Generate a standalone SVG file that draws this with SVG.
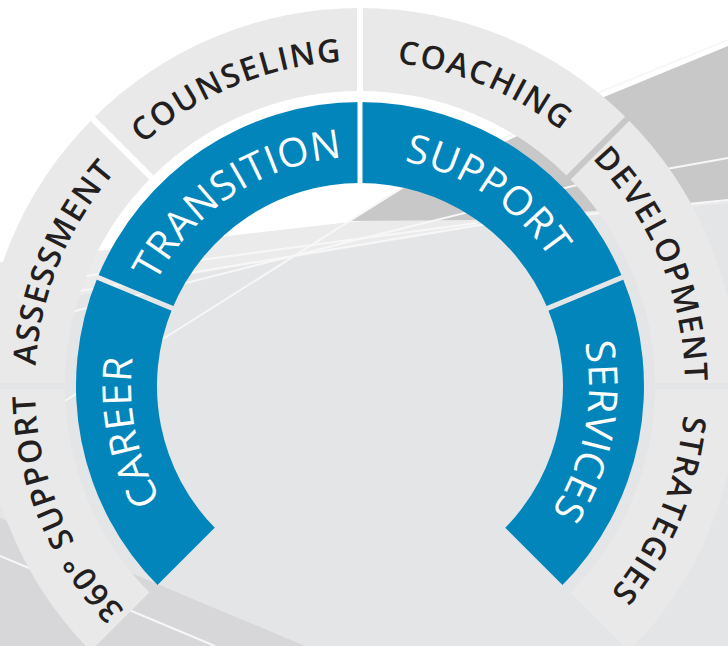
<svg xmlns="http://www.w3.org/2000/svg" xmlns:xlink="http://www.w3.org/1999/xlink" width="728" height="646" viewBox="0 0 728 646">
  <style>
    .outer { fill: #e9e9ea; }
    .inner { fill: #0285bb; }
    .olabel { font-family: "Open Sans", "Noto Sans", "Liberation Sans", sans-serif; font-size: 32px; font-weight: 600; fill: #231f20; letter-spacing: 1.5px; }
    .ilabel { font-family: "Open Sans", "Noto Sans", "Liberation Sans", sans-serif; font-size: 40px; font-weight: 500; fill: #ffffff; letter-spacing: 0.5px; }
    .wl { fill: none; stroke: #f7f7f7; stroke-width: 2; }
    .cut { stroke: #000; fill: none; }
  </style>
  <defs>
    <mask id="outerGaps" maskUnits="userSpaceOnUse" x="-60" y="-60" width="850" height="770">
      <rect x="-60" y="-60" width="850" height="770" fill="#fff"/>
      <g class="cut" stroke-width="6">
        <line x1="360" y1="386" x2="77.16" y2="668.84"/>
        <line x1="360" y1="386" x2="-40" y2="386"/>
        <line x1="360" y1="386" x2="77.16" y2="103.16"/>
        <line x1="360" y1="386" x2="360" y2="-14"/>
        <line x1="360" y1="386" x2="642.84" y2="103.16"/>
        <line x1="360" y1="386" x2="760" y2="386"/>
        <line x1="360" y1="386" x2="642.84" y2="668.84"/>
      </g>
    </mask>
    <mask id="innerGaps" maskUnits="userSpaceOnUse" x="-60" y="-60" width="850" height="770">
      <rect x="-60" y="-60" width="850" height="770" fill="#fff"/>
      <g class="cut" stroke-width="5">
        <line x1="360" y1="386" x2="77.16" y2="668.84"/>
        <line x1="360" y1="386" x2="-9.55" y2="232.93"/>
        <line x1="360" y1="386" x2="360" y2="-14"/>
        <line x1="360" y1="386" x2="729.55" y2="232.93"/>
        <line x1="360" y1="386" x2="642.84" y2="668.84"/>
      </g>
    </mask>
    <!-- text baselines, clockwise -->
    <path id="t-career" d="M198.07,547.93 A229,229 0 0 1 148.43,298.37"/>
    <path id="t-transition" d="M148.43,298.37 A229,229 0 0 1 360,157"/>
    <path id="t-support" d="M360,157 A229,229 0 0 1 571.57,298.37"/>
    <path id="t-services" d="M571.57,298.37 A229,229 0 0 1 521.93,547.93"/>
    <path id="t-360" d="M130.19,615.81 A325,325 0 0 1 35,386"/>
    <path id="t-assessment" d="M35,386 A325,325 0 0 1 130.19,156.19"/>
    <path id="t-counseling" d="M130.19,156.19 A325,325 0 0 1 360,61"/>
    <path id="t-coaching" d="M360,61 A325,325 0 0 1 589.81,156.19"/>
    <path id="t-development" d="M589.81,156.19 A325,325 0 0 1 685,386"/>
    <path id="t-strategies" d="M685,386 A325,325 0 0 1 589.81,615.81"/>
  </defs>

  <g id="background">
    <rect x="0" y="0" width="728" height="646" fill="#ffffff"/>
    <polygon points="0,262 350,222 728,196 728,646 0,646" fill="#ebebec"/>
    <polygon points="0,310 190,275 480,226 728,203 728,646 0,646" fill="#e4e5e7"/>
    <polygon points="350,221 407,186 604,97 728,46 728,201 470,220" fill="#c8c8c8"/>
    <polygon points="0,518 305,646 0,646" fill="#d7d7d9"/>
    <polyline class="wl" points="0,442 193,320 405,186 600,92 728,40"/>
    <polyline class="wl" points="0,304 190,273 480,225 728,200"/>
    <polyline class="wl" points="0,330 364,238 577,185 728,158"/>
    <polyline class="wl" points="0,288 193,261 477,223"/>
    <line class="wl" x1="0" y1="556" x2="215" y2="646"/>
  </g>

  <g id="outer-360-support">
    <path class="outer" mask="url(#outerGaps)" d="M92.71,653.29 A378,378 0 0 1 -18,386 L65,386 A295,295 0 0 0 151.40,594.60 Z"/>
    <text class="olabel"><textPath href="#t-360" xlink:href="#t-360" startOffset="50%" text-anchor="middle">360° SUPPORT</textPath></text>
  </g>
  <g id="outer-assessment">
    <path class="outer" mask="url(#outerGaps)" d="M-18,386 A378,378 0 0 1 92.71,118.71 L151.40,177.40 A295,295 0 0 0 65,386 Z"/>
    <text class="olabel"><textPath href="#t-assessment" xlink:href="#t-assessment" startOffset="50%" text-anchor="middle">ASSESSMENT</textPath></text>
  </g>
  <g id="outer-counseling">
    <path class="outer" mask="url(#outerGaps)" d="M92.71,118.71 A378,378 0 0 1 360,8 L360,91 A295,295 0 0 0 151.40,177.40 Z"/>
    <text class="olabel"><textPath href="#t-counseling" xlink:href="#t-counseling" startOffset="50%" text-anchor="middle">COUNSELING</textPath></text>
  </g>
  <g id="outer-coaching">
    <path class="outer" mask="url(#outerGaps)" d="M360,8 A378,378 0 0 1 627.29,118.71 L568.60,177.40 A295,295 0 0 0 360,91 Z"/>
    <text class="olabel"><textPath href="#t-coaching" xlink:href="#t-coaching" startOffset="50%" text-anchor="middle">COACHING</textPath></text>
  </g>
  <g id="outer-development">
    <path class="outer" mask="url(#outerGaps)" d="M627.29,118.71 A378,378 0 0 1 738,386 L655,386 A295,295 0 0 0 568.60,177.40 Z"/>
    <text class="olabel"><textPath href="#t-development" xlink:href="#t-development" startOffset="50%" text-anchor="middle">DEVELOPMENT</textPath></text>
  </g>
  <g id="outer-strategies">
    <path class="outer" mask="url(#outerGaps)" d="M738,386 A378,378 0 0 1 627.29,653.29 L568.60,594.60 A295,295 0 0 0 655,386 Z"/>
    <text class="olabel"><textPath href="#t-strategies" xlink:href="#t-strategies" startOffset="50%" text-anchor="middle">STRATEGIES</textPath></text>
  </g>

  <g id="inner-career">
    <path class="inner" mask="url(#innerGaps)" d="M159.18,586.82 A284,284 0 0 1 97.62,277.32 L172.45,308.32 A203,203 0 0 0 216.46,529.54 Z"/>
    <text class="ilabel"><textPath href="#t-career" xlink:href="#t-career" startOffset="50%" text-anchor="middle">CAREER</textPath></text>
  </g>
  <g id="inner-transition">
    <path class="inner" mask="url(#innerGaps)" d="M97.62,277.32 A284,284 0 0 1 360,102 L360,183 A203,203 0 0 0 172.45,308.32 Z"/>
    <text class="ilabel"><textPath href="#t-transition" xlink:href="#t-transition" startOffset="50%" text-anchor="middle">TRANSITION</textPath></text>
  </g>
  <g id="inner-support">
    <path class="inner" mask="url(#innerGaps)" d="M360,102 A284,284 0 0 1 622.38,277.32 L547.55,308.32 A203,203 0 0 0 360,183 Z"/>
    <text class="ilabel"><textPath href="#t-support" xlink:href="#t-support" startOffset="50%" text-anchor="middle">SUPPORT</textPath></text>
  </g>
  <g id="inner-services">
    <path class="inner" mask="url(#innerGaps)" d="M622.38,277.32 A284,284 0 0 1 560.82,586.82 L503.54,529.54 A203,203 0 0 0 547.55,308.32 Z"/>
    <text class="ilabel"><textPath href="#t-services" xlink:href="#t-services" startOffset="50%" text-anchor="middle">SERVICES</textPath></text>
  </g>

  <g id="connectors"></g>
</svg>
